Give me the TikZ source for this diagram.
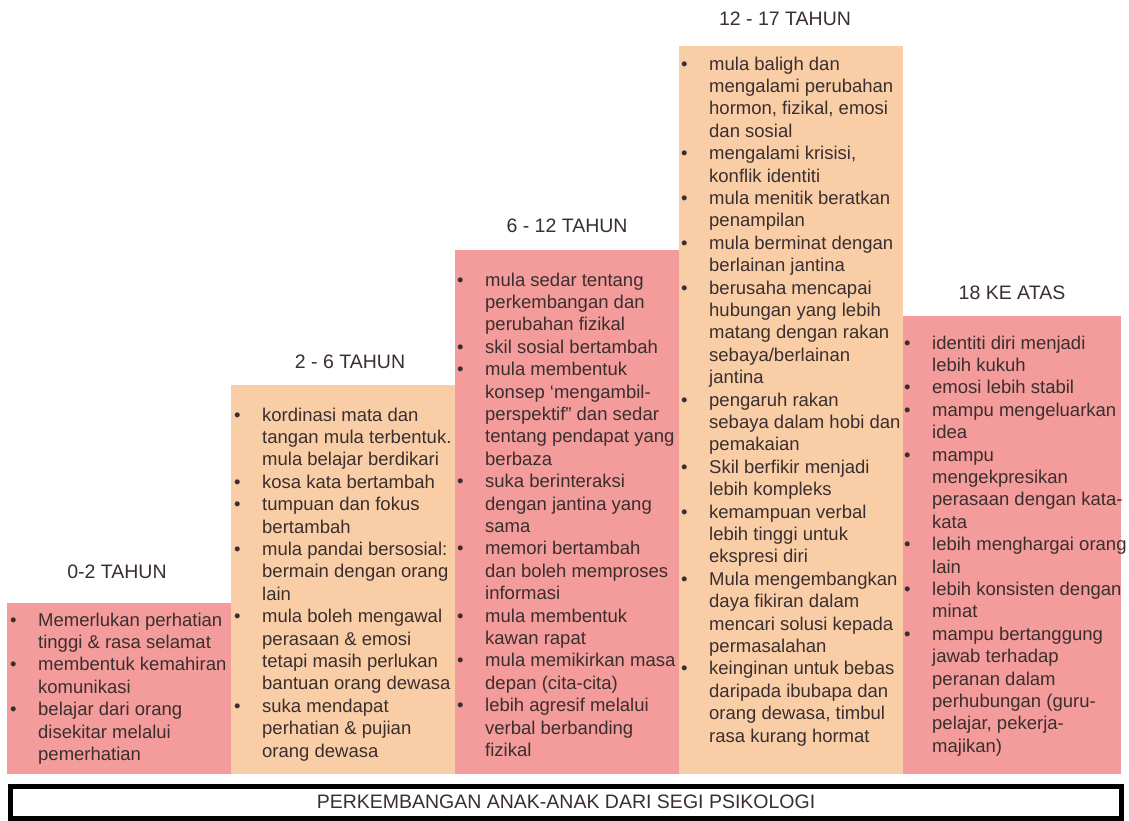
\documentclass[tikz,border=0pt]{standalone}
\usepackage{fontspec}
\setmainfont{Liberation Sans}
\definecolor{pinkc}{HTML}{F39C9B}
\definecolor{peachc}{HTML}{F9CEA7}
\definecolor{txt}{HTML}{3A2E2E}
\newcommand\bu{\strut\makebox[28pt][l]{\textbullet}}
\newcommand\ind{\strut\hspace*{28pt}}
\tikzset{
  colbox/.style={anchor=south west, inner sep=0, minimum width=#1, draw=none},
  agetitle/.style={font=\fontsize{19.5}{22}\selectfont, text=txt, inner sep=0, anchor=base},
  body/.style={font=\fontsize{18.5}{22.4}\selectfont, text=txt, align=left, inner sep=0, anchor=north west},
}
\begin{document}
\begin{tikzpicture}[x=1pt,y=-1pt]
\useasboundingbox (0,0) rectangle (1129,821);
\fill[white] (0,0) rectangle (1129,821);
% columns
\node[colbox=224pt, minimum height=171pt, fill=pinkc] (c1) at (7,774) {};
\node[colbox=224pt, minimum height=389pt, fill=peachc] (c2) at (231,774) {};
\node[colbox=224pt, minimum height=524pt, fill=pinkc] (c3) at (455,774) {};
\node[colbox=224pt, minimum height=728pt, fill=peachc] (c4) at (679,774) {};
\node[colbox=218pt, minimum height=458pt, fill=pinkc] (c5) at (903,774) {};
% titles
\node[agetitle] (h1) at (117,578) {0-2 TAHUN};
\node[agetitle] (h2) at (350,368) {2 - 6 TAHUN};
\node[agetitle] (h3) at (567,232) {6 - 12 TAHUN};
\node[agetitle] (h4) at (785,26) {12 - 17 TAHUN};
\node[agetitle] (h5) at (1012,299) {18 KE ATAS};
% texts (node top = first baseline - 15.68)
\node[body] (t1) at (10,610.3) {\bu Memerlukan perhatian\\
\ind tinggi \& rasa selamat\\
\bu membentuk kemahiran\\
\ind komunikasi\\
\bu belajar dari orang\\
\ind disekitar melalui\\
\ind pemerhatian};
\node[body] (t2) at (234,405.3) {\bu kordinasi mata dan\\
\ind tangan mula terbentuk.\\
\ind mula belajar berdikari\\
\bu kosa kata bertambah\\
\bu tumpuan dan fokus\\
\ind bertambah\\
\bu mula pandai bersosial:\\
\ind bermain dengan orang\\
\ind lain\\
\bu mula boleh mengawal\\
\ind perasaan \& emosi\\
\ind tetapi masih perlukan\\
\ind bantuan orang dewasa\\
\bu suka mendapat\\
\ind perhatian \& pujian\\
\ind orang dewasa};
\node[body] (t3) at (457,270.3) {\bu mula sedar tentang\\
\ind perkembangan dan\\
\ind perubahan fizikal\\
\bu skil sosial bertambah\\
\bu mula membentuk\\
\ind konsep ‘mengambil-\\
\ind perspektif” dan sedar\\
\ind tentang pendapat yang\\
\ind berbaza\\
\bu suka berinteraksi\\
\ind dengan jantina yang\\
\ind sama\\
\bu memori bertambah\\
\ind dan boleh memproses\\
\ind informasi\\
\bu mula membentuk\\
\ind kawan rapat\\
\bu mula memikirkan masa\\
\ind depan (cita-cita)\\
\bu lebih agresif melalui\\
\ind verbal berbanding\\
\ind fizikal};
\node[body] (t4) at (681,54.3) {\bu mula baligh dan\\
\ind mengalami perubahan\\
\ind hormon, fizikal, emosi\\
\ind dan sosial\\
\bu mengalami krisisi,\\
\ind konflik identiti\\
\bu mula menitik beratkan\\
\ind penampilan\\
\bu mula berminat dengan\\
\ind berlainan jantina\\
\bu berusaha mencapai\\
\ind hubungan yang lebih\\
\ind matang dengan rakan\\
\ind sebaya/berlainan\\
\ind jantina\\
\bu pengaruh rakan\\
\ind sebaya dalam hobi dan\\
\ind pemakaian\\
\bu Skil berfikir menjadi\\
\ind lebih kompleks\\
\bu kemampuan verbal\\
\ind lebih tinggi untuk\\
\ind ekspresi diri\\
\bu Mula mengembangkan\\
\ind daya fikiran dalam\\
\ind mencari solusi kepada\\
\ind permasalahan\\
\bu keinginan untuk bebas\\
\ind daripada ibubapa dan\\
\ind orang dewasa, timbul\\
\ind rasa kurang hormat};
\node[body] (t5) at (904,333.3) {\bu identiti diri menjadi\\
\ind lebih kukuh\\
\bu emosi lebih stabil\\
\bu mampu mengeluarkan\\
\ind idea\\
\bu mampu\\
\ind mengekpresikan\\
\ind perasaan dengan kata-\\
\ind kata\\
\bu lebih menghargai orang\\
\ind lain\\
\bu lebih konsisten dengan\\
\ind minat\\
\bu mampu bertanggung\\
\ind jawab terhadap\\
\ind peranan dalam\\
\ind perhubungan (guru-\\
\ind pelajar, pekerja-\\
\ind majikan)};
% footer
\node[draw=black, line width=5pt, minimum width=1111pt, minimum height=32pt, inner sep=0,
      font=\fontsize{19.5}{22}\selectfont, text=txt] (foot) at (566,802) {PERKEMBANGAN ANAK-ANAK DARI SEGI PSIKOLOGI};
\end{tikzpicture}
\end{document}
